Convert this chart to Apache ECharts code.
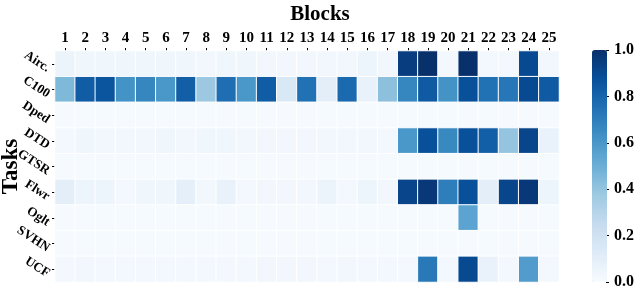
<!DOCTYPE html>
<html><head><meta charset="utf-8">
<script src="https://cdn.jsdelivr.net/npm/echarts@6/dist/echarts.min.js"></script>
<style>html,body{margin:0;padding:0;background:#fff}#c{width:640px;height:288px}</style>
</head><body><div id="c"></div>
<script>
var blocks = ['1','2','3','4','5','6','7','8','9','10','11','12','13','14','15','16','17','18','19','20','21','22','23','24','25'];
var tasks = ['Airc.','C100','Dped','DTD','GTSR','Flwr','Oglt','SVHN','UCF'];
var airc = [0.06,0.04,0.04,0.04,0.04,0.04,0.04,0.03,0.04,0.04,0.03,0.03,0.03,0.03,0.03,0.05,0.03,0.95,1.0,0.02,1.0,0.02,0.02,0.9,0.03];
var c100 = [0.45,0.83,0.86,0.62,0.67,0.6,0.82,0.38,0.76,0.6,0.83,0.15,0.75,0.1,0.78,0.07,0.42,0.67,0.84,0.62,0.88,0.75,0.73,0.9,0.84];
var dped = [0.01,0.01,0.01,0.01,0.01,0.01,0.01,0.01,0.01,0.01,0.01,0.01,0.01,0.01,0.01,0.01,0.01,0.01,0.01,0.01,0.01,0.01,0.01,0.01,0.01];
var dtd = [0.02,0.04,0.03,0.03,0.03,0.04,0.03,0.04,0.04,0.03,0.03,0.03,0.03,0.03,0.03,0.03,0.02,0.6,0.88,0.66,0.88,0.82,0.4,0.92,0.07];
var gtsr = [0.01,0.01,0.01,0.01,0.01,0.01,0.01,0.01,0.01,0.01,0.01,0.01,0.01,0.01,0.01,0.01,0.01,0.01,0.01,0.01,0.01,0.01,0.01,0.01,0.01];
var flwr = [0.1,0.05,0.05,0.02,0.04,0.04,0.09,0.03,0.07,0.02,0.03,0.03,0.03,0.06,0.02,0.05,0.03,0.92,0.97,0.7,0.88,0.1,0.92,0.97,0.05];
var oglt = [0.01,0.01,0.01,0.01,0.01,0.01,0.01,0.01,0.01,0.01,0.01,0.01,0.01,0.01,0.01,0.01,0.01,0.01,0.01,0.01,0.55,0.01,0.01,0.01,0.01];
var svhn = [0.01,0.01,0.01,0.01,0.01,0.01,0.01,0.01,0.01,0.01,0.01,0.01,0.01,0.01,0.01,0.01,0.01,0.01,0.01,0.01,0.01,0.01,0.01,0.01,0.01];
var ucf = [0.02,0.03,0.02,0.02,0.02,0.02,0.02,0.02,0.02,0.02,0.03,0.03,0.03,0.02,0.03,0.02,0.02,0.02,0.72,0.02,0.9,0.07,0.02,0.58,0.02];
var colorTicks = [0, 0.2, 0.4, 0.6, 0.8, 1.0];

var rows = [airc, c100, dped, dtd, gtsr, flwr, oglt, svhn, ucf];
var data = [];
rows.forEach(function(r, yi){ r.forEach(function(v, xi){ data.push([xi, yi, v]); }); });

var F = '"Liberation Serif", "DejaVu Serif", serif';
var chart = echarts.init(document.getElementById('c'), null, {renderer:'canvas'});
chart.setOption({
  animation: false,
  title: {text: 'Blocks', left: 'center', top: -1, textStyle: {fontFamily: F, fontWeight: 'bold', fontSize: 21, color: '#000'}},
  grid: [
    {left: 55, right: 81, top: 51, bottom: 6, outerBoundsMode: 'none', containLabel: false},
    {left: 606, width: 1, top: 50, height: 232, outerBoundsMode: 'none', containLabel: false}
  ],
  xAxis: [
    {type: 'category', data: blocks, position: 'top', gridIndex: 0,
     axisLine: {show: false}, axisTick: {show: true, length: 3, alignWithLabel: true, lineStyle: {color: '#000'}},
     axisLabel: {fontFamily: F, fontWeight: 'bold', fontSize: 15, color: '#000', margin: 5, interval: 0},
     splitLine: {show: false}},
    {type: 'value', gridIndex: 1, show: false}
  ],
  yAxis: [
    {type: 'category', data: tasks, inverse: true, gridIndex: 0,
     name: 'Tasks', nameLocation: 'middle', nameGap: 32, nameRotate: 90, nameMoveOverlap: false,
     nameTextStyle: {fontFamily: F, fontWeight: 'bold', fontSize: 23, color: '#000'},
     axisLine: {show: false}, axisTick: {show: true, length: 3, alignWithLabel: true, lineStyle: {color: '#000'}},
     axisLabel: {fontFamily: F, fontWeight: 'bold', fontSize: 13, color: '#000', rotate: -33, margin: 3,
       verticalAlign: 'top', interval: 0},
     splitLine: {show: false}},
    {type: 'value', gridIndex: 1, min: 0, max: 1, interval: 0.2, position: 'right',
     axisLine: {show: false}, axisTick: {show: true, inside: false, length: 3, lineStyle: {color: '#000'}},
     splitLine: {show: false},
     axisLabel: {fontFamily: F, fontWeight: 'bold', fontSize: 16, color: '#000', margin: 7,
       formatter: function(v){ return v.toFixed(1); }}}
  ],
  visualMap: {
    type: 'continuous', min: 0, max: 1, calculable: false, orient: 'vertical', hoverLink: false,
    left: 592, top: 50, padding: 0, itemWidth: 15, itemHeight: 232,
    seriesIndex: 0,
    inRange: {color: ['#f7fbff','#deebf7','#c6dbef','#9ecae1','#6baed6','#4292c6','#2171b5','#08519c','#08306b']}
  },
  series: [{
    type: 'heatmap', xAxisIndex: 0, yAxisIndex: 0, data: data,
    itemStyle: {borderColor: '#fff', borderWidth: 1},
    emphasis: {disabled: true}
  }]
});
</script></body></html>
